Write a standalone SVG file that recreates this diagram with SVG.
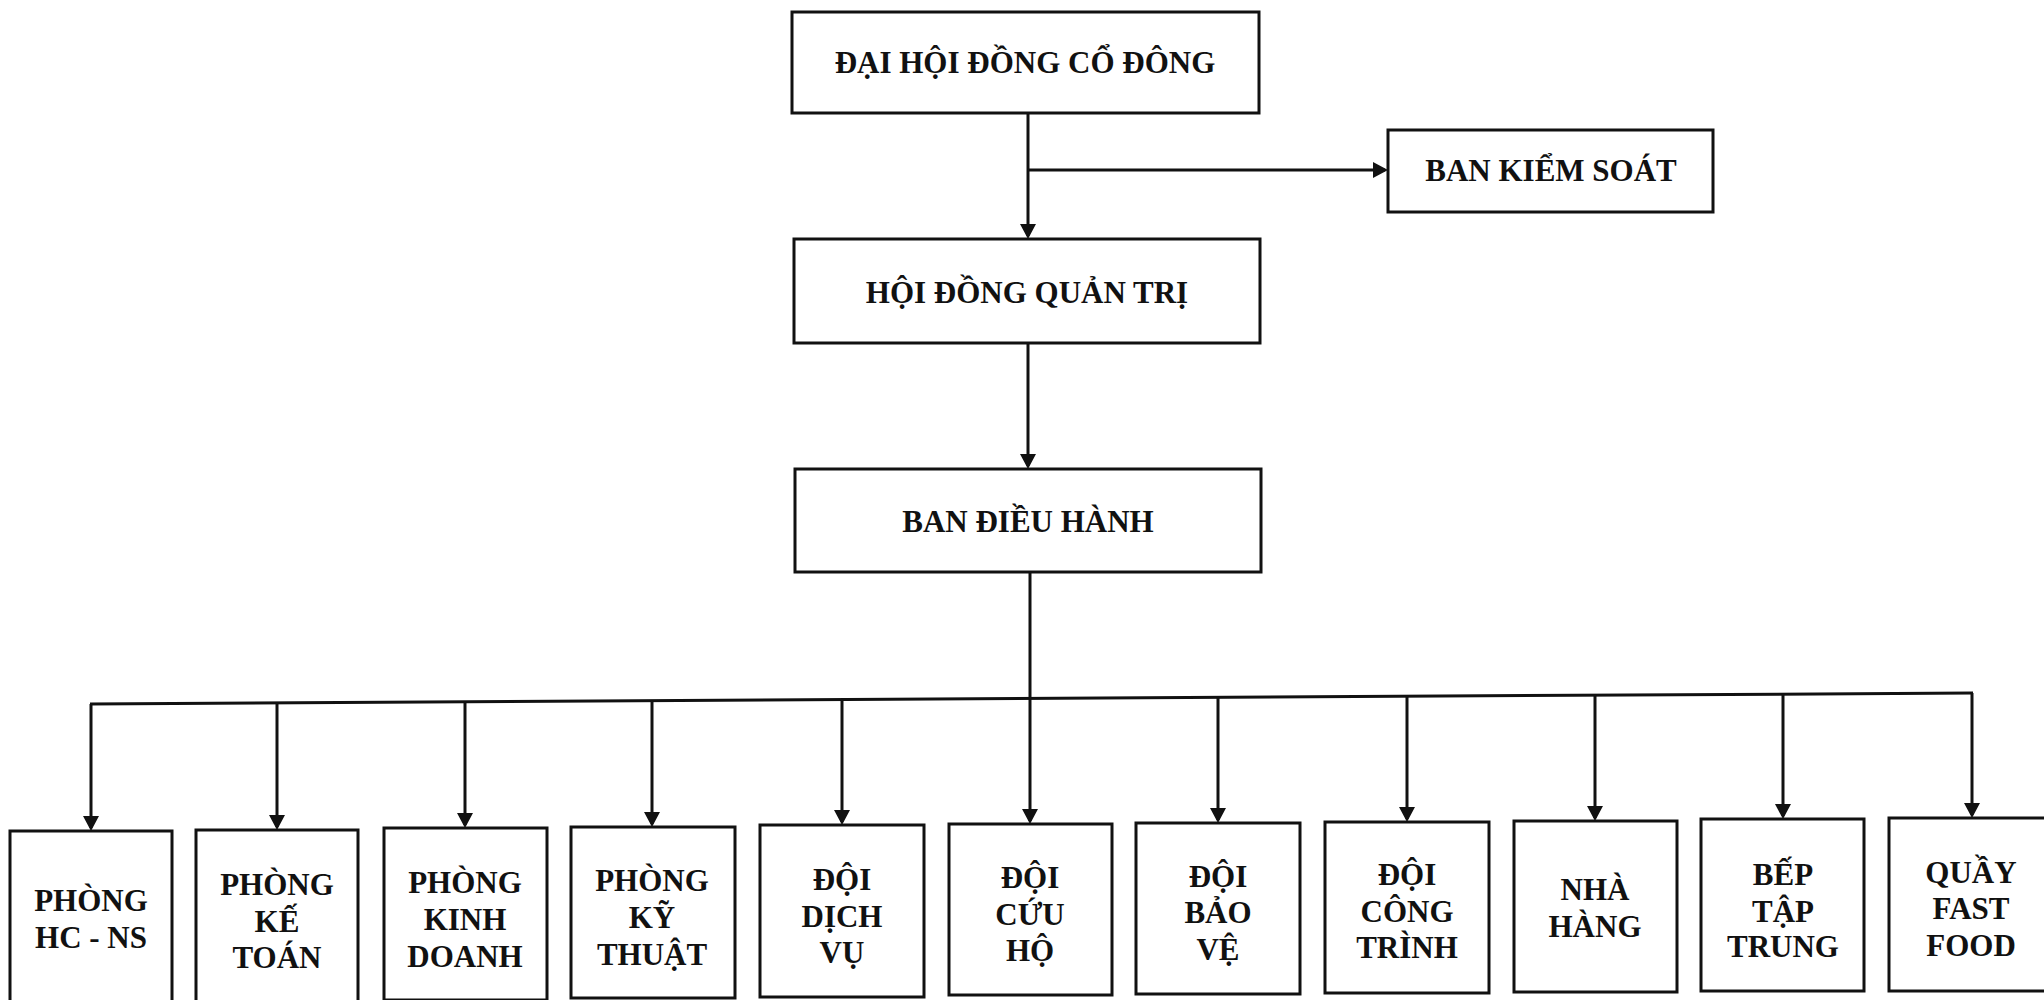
<svg xmlns="http://www.w3.org/2000/svg" width="2044" height="1000" viewBox="0 0 2044 1000">
<style>
.box{fill:#ffffff;stroke:#111111;stroke-width:3}
.ln{fill:none;stroke:#111111;stroke-width:3}
.t{font-family:"Liberation Serif","Times New Roman",serif;font-weight:bold;font-size:31px;fill:#111111;text-anchor:middle}
</style>
<defs>
<marker id="ah" viewBox="0 0 15 16" refX="12" refY="8" markerWidth="15" markerHeight="16" markerUnits="userSpaceOnUse" orient="auto">
<path d="M0,0 L15,8 L0,16 z" fill="#111111"/>
</marker>
</defs>
<rect width="2044" height="1000" fill="#ffffff"/>
<g id="connectors">
<line class="ln" x1="1028" y1="113" x2="1028" y2="236" marker-end="url(#ah)"/>
<line class="ln" x1="1028" y1="170" x2="1385" y2="170" marker-end="url(#ah)"/>
<line class="ln" x1="1028" y1="343" x2="1028" y2="466" marker-end="url(#ah)"/>
<line class="ln" x1="1030" y1="572" x2="1030" y2="821" marker-end="url(#ah)"/>
<line class="ln" x1="90" y1="704" x2="1973" y2="693"/>
<line class="ln" x1="91" y1="704" x2="91" y2="828" marker-end="url(#ah)"/>
<line class="ln" x1="277" y1="703" x2="277" y2="827" marker-end="url(#ah)"/>
<line class="ln" x1="465" y1="702" x2="465" y2="825" marker-end="url(#ah)"/>
<line class="ln" x1="652" y1="701" x2="652" y2="824" marker-end="url(#ah)"/>
<line class="ln" x1="842" y1="700" x2="842" y2="822" marker-end="url(#ah)"/>
<line class="ln" x1="1218" y1="697" x2="1218" y2="820" marker-end="url(#ah)"/>
<line class="ln" x1="1407" y1="696" x2="1407" y2="819" marker-end="url(#ah)"/>
<line class="ln" x1="1595" y1="695" x2="1595" y2="818" marker-end="url(#ah)"/>
<line class="ln" x1="1783" y1="694" x2="1783" y2="816" marker-end="url(#ah)"/>
<line class="ln" x1="1972" y1="693" x2="1972" y2="815" marker-end="url(#ah)"/>
</g>
<g id="dhdcd"><rect class="box" x="792" y="12" width="467" height="101"/><text class="t" x="1025" y="73">ĐẠI HỘI ĐỒNG CỔ ĐÔNG</text></g>
<g id="bks"><rect class="box" x="1388" y="130" width="325" height="82"/><text class="t" x="1551" y="181">BAN KIỂM SOÁT</text></g>
<g id="hdqt"><rect class="box" x="794" y="239" width="466" height="104"/><text class="t" x="1027" y="303">HỘI ĐỒNG QUẢN TRỊ</text></g>
<g id="bdh"><rect class="box" x="795" y="469" width="466" height="103"/><text class="t" x="1028" y="532">BAN ĐIỀU HÀNH</text></g>
<g id="hcns"><rect class="box" x="10" y="831" width="162" height="172"/><text class="t" x="91"><tspan x="91" y="911">PHÒNG</tspan><tspan x="91" y="948">HC - NS</tspan></text></g>
<g id="ketoan"><rect class="box" x="196" y="830" width="162" height="172"/><text class="t"><tspan x="277" y="895">PHÒNG</tspan><tspan x="277" y="932">KẾ</tspan><tspan x="277" y="968">TOÁN</tspan></text></g>
<g id="kinhdoanh"><rect class="box" x="384" y="828" width="163" height="172"/><text class="t"><tspan x="465" y="893">PHÒNG</tspan><tspan x="465" y="930">KINH</tspan><tspan x="465" y="967">DOANH</tspan></text></g>
<g id="kythuat"><rect class="box" x="571" y="827" width="164" height="171"/><text class="t"><tspan x="652" y="891">PHÒNG</tspan><tspan x="652" y="928">KỸ</tspan><tspan x="652" y="965">THUẬT</tspan></text></g>
<g id="dichvu"><rect class="box" x="760" y="825" width="164" height="172"/><text class="t"><tspan x="842" y="890">ĐỘI</tspan><tspan x="842" y="927">DỊCH</tspan><tspan x="842" y="963">VỤ</tspan></text></g>
<g id="cuuho"><rect class="box" x="949" y="824" width="163" height="171"/><text class="t"><tspan x="1030" y="888">ĐỘI</tspan><tspan x="1030" y="925">CỨU</tspan><tspan x="1030" y="961">HỘ</tspan></text></g>
<g id="baove"><rect class="box" x="1136" y="823" width="164" height="171"/><text class="t"><tspan x="1218" y="887">ĐỘI</tspan><tspan x="1218" y="923">BẢO</tspan><tspan x="1218" y="960">VỆ</tspan></text></g>
<g id="congtrinh"><rect class="box" x="1325" y="822" width="164" height="171"/><text class="t"><tspan x="1407" y="885">ĐỘI</tspan><tspan x="1407" y="922">CÔNG</tspan><tspan x="1407" y="958">TRÌNH</tspan></text></g>
<g id="nhahang"><rect class="box" x="1514" y="821" width="163" height="171"/><text class="t"><tspan x="1595" y="900">NHÀ</tspan><tspan x="1595" y="937">HÀNG</tspan></text></g>
<g id="beptaptrung"><rect class="box" x="1701" y="819" width="163" height="172"/><text class="t"><tspan x="1783" y="885">BẾP</tspan><tspan x="1783" y="922">TẬP</tspan><tspan x="1783" y="957">TRUNG</tspan></text></g>
<g id="fastfood"><rect class="box" x="1889" y="818" width="165" height="173"/><text class="t"><tspan x="1971" y="883">QUẦY</tspan><tspan x="1971" y="919">FAST</tspan><tspan x="1971" y="956">FOOD</tspan></text></g>
</svg>
